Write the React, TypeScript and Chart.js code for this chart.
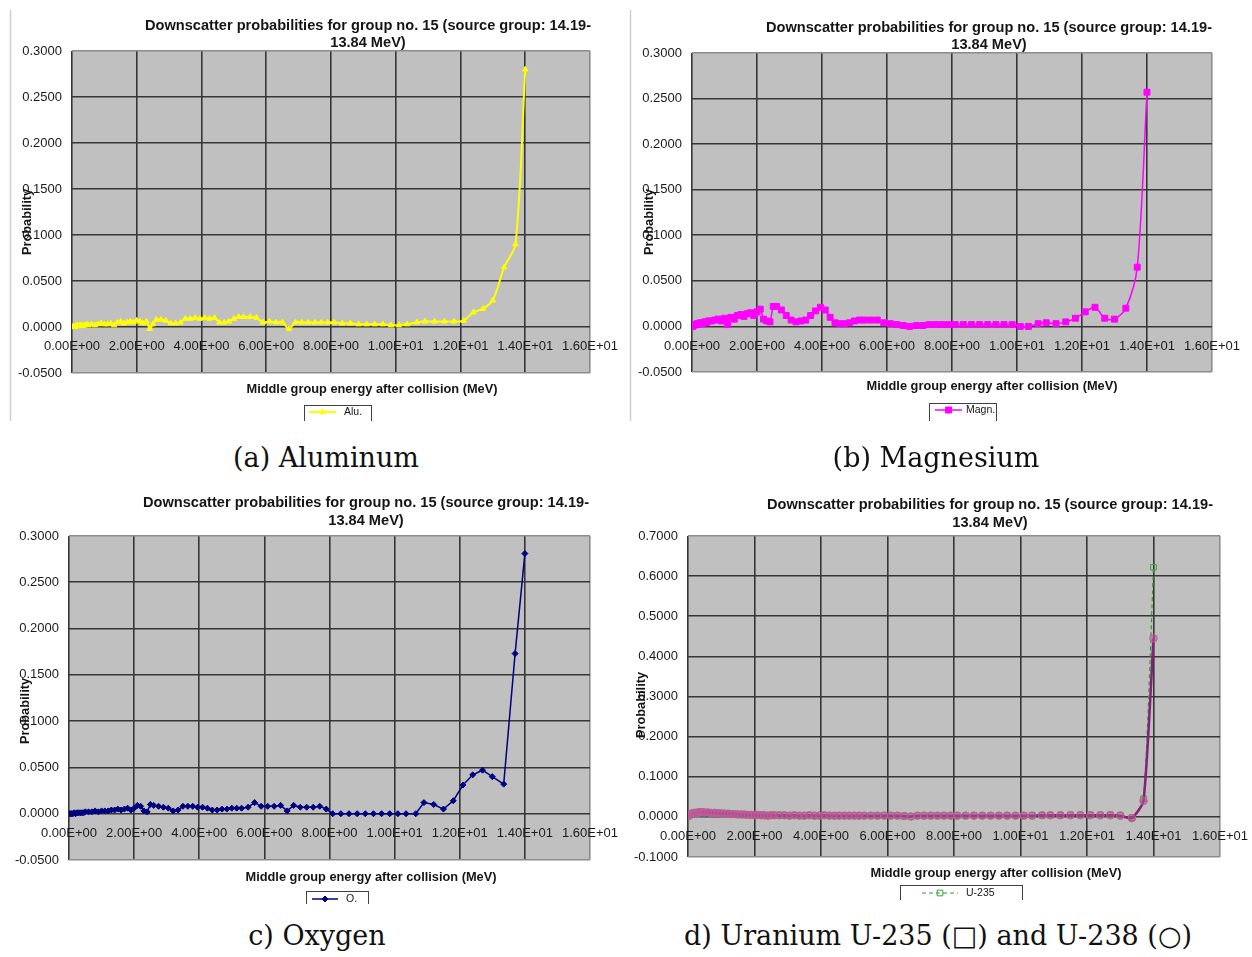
import React, { useEffect, useRef } from "react";
import { Chart, registerables } from "chart.js";

Chart.register(...registerables);

const FONT = '"Liberation Sans", Arial, Helvetica, sans-serif';
const SERIF = '"DejaVu Serif", "Liberation Serif", serif';

// Middle group energy after collision (MeV)
const ENERGY = [
  0.02, 0.05, 0.08, 0.12, 0.16, 0.2, 0.25, 0.3, 0.35, 0.4,
  0.45, 0.5, 0.6, 0.7, 0.8, 0.9, 1.0, 1.1, 1.2, 1.3,
  1.4, 1.5, 1.6, 1.7, 1.8, 1.9, 2.0, 2.1, 2.2, 2.3,
  2.4, 2.5, 2.6, 2.75, 2.9, 3.05, 3.2, 3.35, 3.5, 3.65,
  3.8, 3.95, 4.1, 4.25, 4.4, 4.55, 4.7, 4.85, 5.0, 5.15,
  5.3, 5.5, 5.7, 5.9, 6.1, 6.3, 6.5, 6.7, 6.9, 7.1,
  7.3, 7.5, 7.7, 7.9, 8.1, 8.35, 8.6, 8.85, 9.1, 9.35,
  9.6, 9.85, 10.1, 10.35, 10.65, 10.9, 11.2, 11.5, 11.8, 12.1,
  12.4, 12.7, 13.0, 13.35, 13.7, 14.0,
];

const ALU = [
  0.000, 0.001, 0.000, 0.001, 0.002, 0.001, 0.002, 0.002, 0.001, 0.002,
  0.003, 0.002, 0.003, 0.002, 0.003, 0.004, 0.003, 0.003, 0.004, 0.002,
  0.005, 0.006, 0.004, 0.005, 0.006, 0.005, 0.007, 0.006, 0.004, 0.006,
  -0.002, 0.003, 0.008, 0.008, 0.007, 0.004, 0.004, 0.005, 0.009, 0.009,
  0.010, 0.009, 0.010, 0.009, 0.010, 0.005, 0.005, 0.006, 0.009, 0.011,
  0.011, 0.011, 0.010, 0.005, 0.006, 0.005, 0.005, -0.002, 0.005, 0.005,
  0.005, 0.005, 0.005, 0.005, 0.005, 0.004, 0.004, 0.003, 0.003, 0.003,
  0.003, 0.002, 0.002, 0.003, 0.005, 0.006, 0.006, 0.006, 0.006, 0.007,
  0.016, 0.020, 0.029, 0.065, 0.090, 0.280,
];

const MAGN = [
  0.000, 0.001, 0.002, 0.002, 0.003, 0.002, 0.004, 0.003, 0.004, 0.005,
  0.004, 0.006, 0.006, 0.007, 0.008, 0.006, 0.009, 0.002, 0.010, 0.008,
  0.012, 0.013, 0.011, 0.014, 0.015, 0.012, 0.016, 0.019, 0.008, 0.006,
  0.005, 0.022, 0.022, 0.018, 0.012, 0.007, 0.005, 0.006, 0.007, 0.012,
  0.017, 0.021, 0.018, 0.010, 0.004, 0.003, 0.003, 0.004, 0.006, 0.007,
  0.007, 0.007, 0.007, 0.004, 0.003, 0.002, 0.001, 0.000, 0.001, 0.001,
  0.002, 0.002, 0.002, 0.002, 0.002, 0.002, 0.002, 0.002, 0.002, 0.002,
  0.002, 0.002, 0.000, 0.000, 0.003, 0.004, 0.003, 0.005, 0.009, 0.016,
  0.021, 0.009, 0.008, 0.020, 0.065, 0.257,
];

const OXY = [
  0.000, 0.000, 0.000, 0.000, 0.001, 0.000, 0.001, 0.001, 0.001, 0.001,
  0.001, 0.002, 0.002, 0.002, 0.003, 0.002, 0.003, 0.003, 0.003, 0.004,
  0.004, 0.005, 0.004, 0.005, 0.006, 0.004, 0.006, 0.009, 0.008, 0.003,
  0.002, 0.010, 0.009, 0.008, 0.007, 0.006, 0.003, 0.004, 0.008, 0.008,
  0.008, 0.007, 0.007, 0.006, 0.004, 0.004, 0.005, 0.005, 0.006, 0.006,
  0.006, 0.007, 0.012, 0.008, 0.008, 0.008, 0.009, 0.003, 0.009, 0.007,
  0.007, 0.007, 0.008, 0.005, 0.000, 0.000, 0.000, 0.000, 0.000, 0.000,
  0.000, 0.000, 0.000, 0.000, 0.000, 0.012, 0.010, 0.005, 0.014, 0.031,
  0.042, 0.047, 0.040, 0.032, 0.173, 0.281,
];

const U235 = [
  0.002, 0.004, 0.006, 0.007, 0.008, 0.009, 0.009, 0.010, 0.010, 0.011,
  0.010, 0.010, 0.010, 0.009, 0.009, 0.008, 0.008, 0.007, 0.007, 0.007,
  0.006, 0.006, 0.006, 0.005, 0.005, 0.005, 0.005, 0.004, 0.004, 0.004,
  0.003, 0.004, 0.004, 0.004, 0.003, 0.003, 0.004, 0.003, 0.003, 0.004,
  0.003, 0.003, 0.004, 0.003, 0.003, 0.003, 0.003, 0.003, 0.003, 0.003,
  0.003, 0.003, 0.003, 0.003, 0.003, 0.003, 0.002, 0.001, 0.003, 0.003,
  0.003, 0.003, 0.003, 0.003, 0.003, 0.003, 0.003, 0.003, 0.003, 0.003,
  0.003, 0.003, 0.003, 0.004, 0.004, 0.004, 0.004, 0.005, 0.005, 0.005,
  0.005, 0.005, 0.004, -0.002, 0.045, 0.622,
];

const U238 = [
  0.003, 0.005, 0.007, 0.008, 0.009, 0.010, 0.010, 0.011, 0.011, 0.012,
  0.011, 0.011, 0.011, 0.010, 0.010, 0.009, 0.009, 0.008, 0.008, 0.007,
  0.007, 0.006, 0.006, 0.006, 0.005, 0.005, 0.005, 0.005, 0.004, 0.004,
  0.003, 0.004, 0.004, 0.004, 0.004, 0.003, 0.004, 0.003, 0.003, 0.004,
  0.003, 0.003, 0.004, 0.003, 0.003, 0.003, 0.003, 0.003, 0.003, 0.003,
  0.003, 0.003, 0.003, 0.003, 0.003, 0.003, 0.002, 0.001, 0.003, 0.003,
  0.003, 0.003, 0.003, 0.003, 0.003, 0.003, 0.003, 0.003, 0.003, 0.003,
  0.003, 0.003, 0.003, 0.003, 0.004, 0.004, 0.004, 0.004, 0.004, 0.004,
  0.004, 0.004, 0.003, -0.003, 0.040, 0.445,
];

const X_TICK_LABELS = [
  "0.00E+00", "2.00E+00", "4.00E+00", "6.00E+00", "8.00E+00",
  "1.00E+01", "1.20E+01", "1.40E+01", "1.60E+01",
];
const Y_TICK_LABELS_LIGHT = [
  "-0.0500", "0.0000", "0.0500", "0.1000", "0.1500", "0.2000", "0.2500", "0.3000",
];
const Y_TICK_LABELS_U = [
  "-0.1000", "0.0000", "0.1000", "0.2000", "0.3000", "0.4000", "0.5000", "0.6000", "0.7000",
];

const TITLE_LINES = [
  "Downscatter probabilities for group no. 15 (source group: 14.19-",
  "13.84 MeV)",
];
const X_TITLE = "Middle group energy after collision (MeV)";
const Y_TITLE = "Probability";

const CAPTIONS = [
  "(a) Aluminum",
  "(b) Magnesium",
  "c) Oxygen",
  "d) Uranium U-235 (□) and U-238 (○)",
];

type SeriesDef = {
  label: string;
  values: number[];
  color: string;
  width: number;
  dash?: number[];
  marker: string;
  radius: number;
  markerFill: string;
  markerBorder: string;
  tension: number;
};

const S_ALU: SeriesDef = {
  label: "Alu.", values: ALU, color: "#ffff00", width: 2, marker: "triangle", radius: 3.2,
  markerFill: "#ffff00", markerBorder: "#ffff00", tension: 0.3,
};
const S_MAGN: SeriesDef = {
  label: "Magn.", values: MAGN, color: "#ff00ff", width: 1.5, marker: "rect", radius: 4.2,
  markerFill: "#ff00ff", markerBorder: "#ff00ff", tension: 0.3,
};
const S_OXY: SeriesDef = {
  label: "O.", values: OXY, color: "#000080", width: 1.5, marker: "rectRot", radius: 3,
  markerFill: "#000080", markerBorder: "#000080", tension: 0,
};
const S_U238: SeriesDef = {
  label: "U-238", values: U238, color: "#85207c", width: 2.5, marker: "circle", radius: 3.8,
  markerFill: "rgba(190,80,150,0.55)", markerBorder: "#c0609a", tension: 0.2,
};
const S_U235: SeriesDef = {
  label: "U-235", values: U235, color: "#2e9e2e", width: 1.2, dash: [4, 3], marker: "rect", radius: 4,
  markerFill: "rgba(0,0,0,0)", markerBorder: "#36a536", tension: 0.2,
};

type PanelDef = {
  key: string;
  left: number; top: number; width: number; height: number;
  pad: { left: number; top: number; right: number; bottom: number };
  yMin: number; yMax: number; yStep: number; yLabels: string[];
  series: SeriesDef[];
  legendSeries: SeriesDef;
  titleX: number; titleY: number[];
  xTitleX: number; xTitleY: number;
  yTitleX: number; yTitleY: number;
  legend: { left: number; right: number; top: number; lineX1: number; lineX2: number; textX: number; textY: number };
  frameX?: number; frameTop?: number;
};

const PANELS: PanelDef[] = [
  {
    key: "a", left: 0, top: 0, width: 630, height: 421,
    pad: { left: 72, top: 51, right: 36, bottom: 48 },
    yMin: -0.05, yMax: 0.3, yStep: 0.05, yLabels: Y_TICK_LABELS_LIGHT,
    series: [S_ALU], legendSeries: S_ALU,
    titleX: 368, titleY: [26, 43],
    xTitleX: 372, xTitleY: 389,
    yTitleX: 27, yTitleY: 222,
    legend: { left: 304, right: 371, top: 405, lineX1: 309, lineX2: 336, textX: 344, textY: 412 },
    frameX: 10.5, frameTop: 10,
  },
  {
    key: "b", left: 620, top: 0, width: 632, height: 421,
    pad: { left: 72, top: 53, right: 39, bottom: 49 },
    yMin: -0.05, yMax: 0.3, yStep: 0.05, yLabels: Y_TICK_LABELS_LIGHT,
    series: [S_MAGN], legendSeries: S_MAGN,
    titleX: 369, titleY: [28, 45],
    xTitleX: 372, xTitleY: 386,
    yTitleX: 29, yTitleY: 222,
    legend: { left: 309, right: 376, top: 403, lineX1: 315, lineX2: 342, textX: 346, textY: 410 },
    frameX: 10.5, frameTop: 10,
  },
  {
    key: "c", left: 0, top: 478, width: 630, height: 426,
    pad: { left: 69, top: 58, right: 33, bottom: 44 },
    yMin: -0.05, yMax: 0.3, yStep: 0.05, yLabels: Y_TICK_LABELS_LIGHT,
    series: [S_OXY], legendSeries: S_OXY,
    titleX: 366, titleY: [25, 43],
    xTitleX: 371, xTitleY: 399,
    yTitleX: 25, yTitleY: 233,
    legend: { left: 306, right: 368, top: 413, lineX1: 312, lineX2: 338, textX: 346, textY: 421 },
  },
  {
    key: "d", left: 620, top: 478, width: 640, height: 422,
    pad: { left: 68, top: 58, right: 34, bottom: 43 },
    yMin: -0.1, yMax: 0.7, yStep: 0.1, yLabels: Y_TICK_LABELS_U,
    series: [S_U238, S_U235], legendSeries: S_U235,
    titleX: 370, titleY: [27, 45],
    xTitleX: 376, xTitleY: 395,
    yTitleX: 21, yTitleY: 227,
    legend: { left: 280, right: 402, top: 407, lineX1: 302, lineX2: 338, textX: 346, textY: 415 },
  },
];

const CAPTION_POS = [
  { x: 326, y: 458 },
  { x: 936, y: 458 },
  { x: 317, y: 936 },
  { x: 938, y: 936 },
];

function drawMarker(ctx: CanvasRenderingContext2D, s: SeriesDef, x: number, y: number) {
  const r = s.radius;
  ctx.beginPath();
  if (s.marker === "circle") {
    ctx.arc(x, y, r, 0, Math.PI * 2);
  } else if (s.marker === "rect") {
    const h = r * Math.SQRT1_2;
    ctx.rect(x - h, y - h, 2 * h, 2 * h);
  } else if (s.marker === "rectRot") {
    ctx.moveTo(x, y - r);
    ctx.lineTo(x + r, y);
    ctx.lineTo(x, y + r);
    ctx.lineTo(x - r, y);
    ctx.closePath();
  } else {
    ctx.moveTo(x, y - r);
    ctx.lineTo(x + r * 0.866, y + r * 0.5);
    ctx.lineTo(x - r * 0.866, y + r * 0.5);
    ctx.closePath();
  }
  ctx.fillStyle = s.markerFill;
  ctx.fill();
  ctx.setLineDash([]);
  ctx.lineWidth = 1;
  ctx.strokeStyle = s.markerBorder;
  ctx.stroke();
}

const plotBackground = {
  id: "plotBackground",
  beforeDraw(chart: any) {
    const { ctx, chartArea: a } = chart;
    ctx.save();
    ctx.fillStyle = "#c0c0c0";
    ctx.fillRect(a.left, a.top, a.right - a.left, a.bottom - a.top);
    ctx.restore();
  },
};

function overlayPlugin(p: PanelDef) {
  return {
    id: "overlay",
    afterDraw(chart: any) {
      const ctx: CanvasRenderingContext2D = chart.ctx;
      ctx.save();
      if (p.frameX !== undefined) {
        ctx.strokeStyle = "#cfcfcf";
        ctx.lineWidth = 1.5;
        ctx.beginPath();
        ctx.moveTo(p.frameX, p.frameTop || 0);
        ctx.lineTo(p.frameX, chart.height);
        ctx.stroke();
      }
      ctx.fillStyle = "#151515";
      ctx.textAlign = "center";
      ctx.textBaseline = "middle";
      ctx.font = `bold 14.6px ${FONT}`;
      TITLE_LINES.forEach((t, i) => ctx.fillText(t, p.titleX, p.titleY[i]));
      ctx.font = `bold 12.8px ${FONT}`;
      ctx.fillText(X_TITLE, p.xTitleX, p.xTitleY);
      ctx.save();
      ctx.translate(p.yTitleX, p.yTitleY);
      ctx.rotate(-Math.PI / 2);
      ctx.fillText(Y_TITLE, 0, 0);
      ctx.restore();

      const L = p.legend;
      ctx.fillStyle = "#ffffff";
      ctx.fillRect(L.left, L.top, L.right - L.left, 40);
      ctx.strokeStyle = "#404040";
      ctx.lineWidth = 1;
      ctx.strokeRect(L.left + 0.5, L.top + 0.5, L.right - L.left, 40);
      const s = p.legendSeries;
      ctx.strokeStyle = s.color;
      ctx.lineWidth = s.width;
      ctx.setLineDash(s.dash || []);
      ctx.beginPath();
      ctx.moveTo(L.lineX1, L.textY);
      ctx.lineTo(L.lineX2, L.textY);
      ctx.stroke();
      drawMarker(ctx, s, (L.lineX1 + L.lineX2) / 2, L.textY);
      ctx.fillStyle = "#151515";
      ctx.font = `10.5px ${FONT}`;
      ctx.textAlign = "left";
      ctx.fillText(s.label, L.textX, L.textY);
      ctx.restore();
    },
  };
}

function buildChart(canvas: HTMLCanvasElement, p: PanelDef) {
  const datasets = p.series.map((s) => ({
    label: s.label,
    data: ENERGY.map((x, i) => ({ x, y: s.values[i] })),
    showLine: true,
    borderColor: s.color,
    backgroundColor: s.markerFill,
    borderWidth: s.width,
    borderDash: s.dash || [],
    pointStyle: s.marker,
    pointRadius: s.radius,
    pointBackgroundColor: s.markerFill,
    pointBorderColor: s.markerBorder,
    pointBorderWidth: 1,
    tension: s.tension,
    fill: false,
  }));
  const gridDark = "#363636";
  const gridLight = "#8c8c8c";
  return new Chart(canvas, {
    type: "scatter",
    data: { datasets },
    plugins: [plotBackground, overlayPlugin(p)],
    options: {
      animation: false,
      responsive: false,
      devicePixelRatio: 1,
      events: [],
      layout: { padding: { left: 0, top: p.pad.top, right: p.pad.right, bottom: p.pad.bottom } },
      plugins: {
        legend: { display: false },
        title: { display: false },
        tooltip: { enabled: false },
      },
      scales: {
        x: {
          type: "linear",
          min: 0,
          max: 16,
          position: { y: 0 },
          border: { display: false },
          grid: {
            drawTicks: false,
            lineWidth: 1.6,
            color: (c: any) => (c.index === X_TICK_LABELS.length - 1 ? gridLight : gridDark),
          },
          ticks: {
            stepSize: 2,
            autoSkip: false,
            maxRotation: 0,
            padding: 12,
            color: "#1a1a1a",
            font: { family: FONT, size: 13 },
            callback: (_v: any, i: number) => X_TICK_LABELS[i],
          },
        },
        y: {
          type: "linear",
          min: p.yMin,
          max: p.yMax,
          position: "left",
          border: { display: false },
          afterFit: (scale: any) => {
            scale.width = p.pad.left;
          },
          grid: {
            drawTicks: false,
            lineWidth: 1.6,
            color: (c: any) =>
              c.index === 0 || c.index === p.yLabels.length - 1 ? gridLight : gridDark,
          },
          ticks: {
            stepSize: p.yStep,
            autoSkip: false,
            padding: 10,
            color: "#1a1a1a",
            font: { family: FONT, size: 13 },
            callback: (_v: any, i: number) => p.yLabels[i],
          },
        },
      },
    } as any,
  });
}

function Panel({ p }: { p: PanelDef }) {
  const ref = useRef<HTMLCanvasElement>(null);
  useEffect(() => {
    if (!ref.current) return;
    const chart = buildChart(ref.current, p);
    return () => chart.destroy();
  }, [p]);
  return (
    <canvas
      ref={ref}
      width={p.width}
      height={p.height}
      style={{ position: "absolute", left: p.left, top: p.top, width: p.width, height: p.height }}
    />
  );
}

export default function App() {
  return (
    <div
      style={{
        position: "absolute",
        left: 0,
        top: 0,
        width: 1252,
        height: 957,
        overflow: "hidden",
        background: "#ffffff",
      }}
    >
      {PANELS.map((p) => (
        <Panel key={p.key} p={p} />
      ))}
      {CAPTIONS.map((c, i) => (
        <div
          key={c}
          style={{
            position: "absolute",
            left: CAPTION_POS[i].x - 300,
            top: CAPTION_POS[i].y - 17,
            width: 600,
            height: 34,
            lineHeight: "34px",
            textAlign: "center",
            fontFamily: SERIF,
            fontSize: 27,
            color: "#111",
            whiteSpace: "nowrap",
          }}
        >
          {c}
        </div>
      ))}
    </div>
  );
}
